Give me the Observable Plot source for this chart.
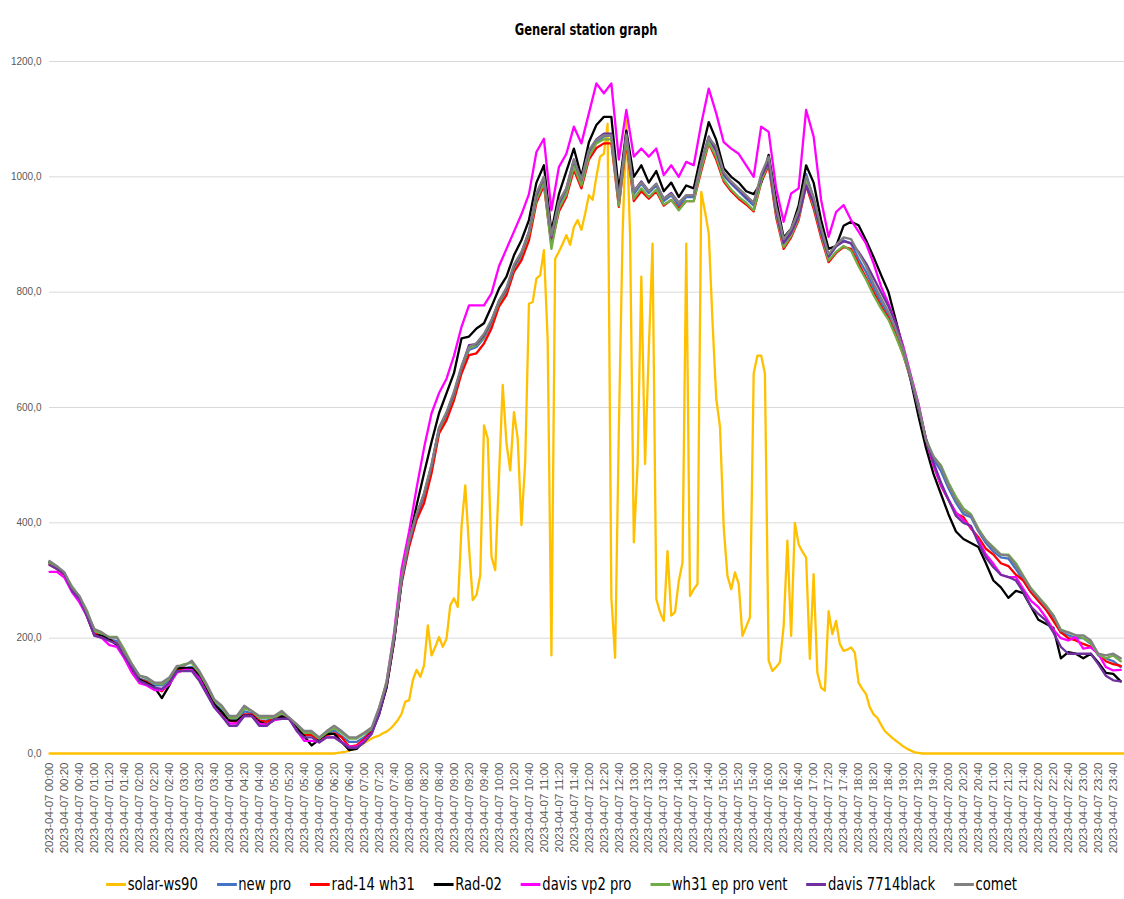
<!DOCTYPE html>
<html><head><meta charset="utf-8">
<script src="https://cdn.jsdelivr.net/npm/d3@7"></script>
<script src="https://cdn.jsdelivr.net/npm/@observablehq/plot@0.6"></script>
<style>
body{margin:0;background:#fff;width:1124px;}
#title{height:45px;box-sizing:border-box;padding-top:22px;padding-left:49px;line-height:16px;text-align:center;font-family:"Liberation Sans Narrow","DejaVu Sans Condensed","Liberation Sans",sans-serif;font-weight:bold;font-size:16px;color:#000;}
#title span{display:inline-block;transform:scaleX(0.8);transform-origin:center;}
#legend{height:42px;display:flex;justify-content:center;align-items:center;font-family:"Liberation Sans Narrow","DejaVu Sans Condensed","Liberation Sans",sans-serif;font-size:17px;color:#000;}
#lg{display:flex;align-items:center;transform:scaleX(0.86);transform-origin:center;}
.item{display:flex;align-items:center;margin:0 11px;}
.sw{display:inline-block;width:23px;height:3px;margin-right:2px;}
</style></head><body>
<div id="title"><span>General station graph</span></div>
<div id="chart"></div>
<div id="legend"><div id="lg"></div></div>
<script>
const dateLabel = "2023-04-07";
const seriesNames = ["solar-ws90","new pro","rad-14 wh31","Rad-02","davis vp2 pro","wh31 ep pro vent","davis 7714black","comet"];
const seriesColors = ["#FFC000","#4472C4","#FF0000","#000000","#FF00FF","#70AD47","#7030A0","#808080"];
const yTicks = [0,200,400,600,800,1000,1200];

// solar-ws90: 5-minute samples, 00:00 .. 23:55
const solarWs90 = [
0,0,0,0,0,0,0,0,0,0,0,0,0,0,0,0,0,0,0,0,
0,0,0,0,0,0,0,0,0,0,0,0,0,0,0,0,0,0,0,0,
0,0,0,0,0,0,0,0,0,0,0,0,0,0,0,0,0,0,0,0,
0,0,0,0,0,0,0,0,0,0,0,0,0,0,0,0,
0,1,2,3,5,8,11,14,18,22,
26,29,31,35,38,43,50,58,69,90,
92,127,145,133,153,222,170,185,202,185,
199,257,269,254,393,465,358,266,275,309,
569,546,341,318,480,639,538,491,592,546,
396,506,780,783,824,829,873,717,170,858,
870,884,899,882,913,925,908,936,968,960,
1000,1035,1040,1092,271,166,560,900,1098,900,
366,500,827,502,700,884,268,245,230,351,
239,245,299,331,884,273,285,294,974,940,
902,750,616,567,392,308,285,314,294,204,
220,236,659,690,690,659,161,143,150,158,
221,369,204,400,363,350,340,164,311,140,
114,109,247,207,230,190,178,180,184,175,
123,112,103,80,68,62,50,39,33,27,
22,17,12,8,5,2,1,
0,0,0,0,0,0,0,0,0,0,0,0,0,0,0,0,0,0,0,0,
0,0,0,0,0,0,0,0,0,0,0,0,0,0,0,0,0,0,0,0,
0,0,0,0,0,0,0,0,0,0,0,0,0,0,0
];

// other sensors: 10-minute samples, 00:00 .. 23:50
const newPro = [
330,322,312,285,270,242,212,205,198,195,
172,150,130,126,118,118,127,148,148,150,
138,112,87,75,57,57,73,70,57,57,
62,66,62,45,34,34,24,34,40,30,
20,20,28,40,75,120,200,300,365,410,
445,495,560,585,620,665,700,705,720,745,
780,800,840,862,900,965,995,890,950,975,
1025,990,1040,1060,1070,1072,955,1070,970,988,
972,985,958,968,950,965,965,1020,1065,1045,
1002,988,975,962,950,1000,1030,942,887,905,
936,1005,962,907,861,879,890,884,858,835,
808,782,760,730,695,650,602,545,510,490,
460,435,415,410,385,365,350,340,338,320,
300,280,265,250,235,210,205,200,200,190,
170,165,160,150];

const rad14wh31 = [
328,320,310,283,268,240,210,203,198,190,
170,148,128,124,114,108,122,145,148,148,
135,110,85,70,57,55,68,68,57,55,
60,64,60,45,32,32,22,32,35,28,
12,14,25,38,70,115,195,295,358,405,
434,486,555,578,613,659,691,694,711,737,
775,795,835,855,890,955,985,882,940,965,
1012,980,1030,1050,1058,1058,948,1060,958,975,
962,975,950,960,945,958,958,1010,1058,1030,
992,975,962,952,940,990,1020,930,875,895,
925,985,945,895,852,868,878,875,850,825,
800,775,755,725,690,648,600,545,500,465,
440,416,410,390,375,355,345,330,325,310,
300,280,265,250,230,210,200,196,190,185,
173,160,155,152];

const rad02 = [
332,324,312,285,270,238,205,205,198,188,
168,145,128,122,115,96,118,148,148,148,
135,110,85,72,57,57,66,66,55,50,
58,64,60,45,30,14,24,34,34,20,
6,8,22,36,68,115,195,300,370,430,
486,540,590,625,660,720,723,737,746,775,
806,827,864,890,925,990,1020,905,970,1010,
1049,1000,1060,1090,1104,1104,975,1080,1000,1020,
990,1010,975,990,965,985,980,1040,1095,1064,
1015,1000,990,975,970,990,1038,960,895,910,
950,1020,990,925,875,880,915,922,916,890,
861,830,800,750,700,645,585,530,485,450,
415,385,372,365,358,330,300,288,270,282,
278,255,232,225,218,165,176,173,165,173,
158,140,138,125];

const davisVp2Pro = [
315,315,305,280,262,238,205,200,188,185,
165,140,122,118,110,110,120,140,145,145,
130,105,80,65,52,52,65,65,52,50,
58,60,60,40,22,22,20,28,28,20,
12,12,22,35,72,125,210,320,385,460,
530,590,625,650,690,740,777,777,777,798,
845,875,905,935,970,1043,1066,942,1017,1040,
1087,1058,1110,1162,1145,1162,1030,1116,1035,1049,
1035,1049,1003,1020,1000,1026,1020,1092,1153,1110,
1060,1049,1040,1020,1000,1087,1078,980,922,971,
980,1116,1070,960,896,939,951,925,905,884,
850,810,780,745,705,655,607,545,500,465,
440,418,405,392,370,345,329,310,306,306,
285,265,254,236,215,200,196,202,182,184,
173,150,144,145];

const wh31EpProVent = [
330,322,312,290,272,248,212,208,202,202,
180,155,135,130,122,120,130,150,155,157,
140,117,92,80,62,62,78,74,62,62,
62,70,62,50,36,36,26,36,44,36,
26,26,34,42,78,125,205,305,370,415,
448,498,562,588,622,668,703,708,722,748,
782,803,842,865,900,960,990,875,945,970,
1018,985,1035,1058,1065,1065,950,1065,962,980,
965,978,952,960,942,958,958,1015,1060,1035,
995,978,965,955,942,992,1025,935,878,898,
928,990,950,900,855,870,880,872,845,822,
795,772,752,722,690,648,598,545,515,500,
470,445,425,415,390,370,358,345,345,330,
308,287,272,257,240,215,210,205,200,192,
172,165,170,160];

const davis7714Black = [
327,320,311,282,268,239,204,201,195,190,
169,149,126,120,114,112,123,143,143,143,
126,103,80,65,48,48,65,65,48,48,
60,60,60,39,28,28,19,28,28,19,
10,10,19,34,68,118,198,298,365,412,
450,500,565,590,625,670,708,710,725,750,
785,805,845,868,905,968,1000,895,955,980,
1030,995,1045,1065,1075,1075,960,1075,975,992,
975,988,962,972,955,968,968,1025,1070,1045,
1005,990,978,965,955,1000,1025,940,885,903,
932,985,955,903,862,880,888,885,870,850,
825,800,775,745,700,648,600,545,505,470,
440,412,400,395,365,340,323,310,306,300,
280,255,242,231,210,185,173,173,173,173,
155,135,127,125];

const comet = [
334,325,314,288,273,245,216,210,201,201,
175,155,135,132,123,123,132,152,152,161,
143,120,94,83,65,65,83,74,65,65,
65,74,62,51,39,39,28,39,48,39,
28,28,36,45,80,122,202,302,368,415,
452,502,565,592,628,672,705,712,728,752,
785,808,848,870,905,972,1000,898,958,980,
1030,995,1046,1064,1072,1072,960,1072,975,990,
975,988,962,970,955,968,968,1025,1068,1052,
1008,992,980,968,955,1005,1035,948,892,910,
942,1000,965,912,866,882,895,892,868,845,
815,790,765,735,700,652,605,543,515,497,
465,440,420,413,387,370,355,345,343,326,
306,285,270,255,239,213,210,205,205,196,
173,170,173,165];

const seriesValues = [solarWs90, newPro, rad14wh31, rad02, davisVp2Pro, wh31EpProVent, davis7714Black, comet];
const seriesStep = [5,10,10,10,10,10,10,10]; // minutes between samples
const tickMinutes = d3.range(0, 1440, 20);

const pad = n => String(n).padStart(2, "0");
const fmtTime = m => `${dateLabel} ${pad(Math.floor(m / 60))}:${pad(m % 60)}`;

const rows = seriesValues.map((vals, k) => vals.map((v, i) => ({t: i * seriesStep[k], v, s: seriesNames[k]})));

const chart = Plot.plot({
  width: 1124,
  height: 818,
  marginLeft: 49,
  marginRight: 0,
  marginTop: 16,
  marginBottom: 110,
  style: {background: "#fff", color: "#595959"},
  x: {type: "linear", domain: [0, 1435]},
  y: {domain: [0, 1200]},
  marks: [
    Plot.ruleY(yTicks, {stroke: "#d9d9d9", strokeWidth: 1}),
    ...rows.map((r, k) => Plot.line(r, {x: "t", y: "v", stroke: seriesColors[k], strokeWidth: 2.3, strokeLinejoin: "round"})),
    Plot.axisX({ticks: tickMinutes, tickFormat: fmtTime, tickRotate: -90, tickSize: 0, tickPadding: 9, label: null, fontSize: 11.5, fontFamily: "Liberation Sans, sans-serif", fill: "#595959"}),
    Plot.axisY({ticks: yTicks, tickFormat: v => v.toFixed(1).replace(".", ","), tickSize: 0, tickPadding: 8, label: null, fontSize: 10, fontFamily: "Liberation Sans, sans-serif", fill: "#595959"})
  ]
});
document.getElementById("chart").appendChild(chart);

const legend = document.getElementById("lg");
seriesNames.forEach((name, k) => {
  const item = document.createElement("div");
  item.className = "item";
  const sw = document.createElement("span");
  sw.className = "sw";
  sw.style.background = seriesColors[k];
  const tx = document.createElement("span");
  tx.textContent = name;
  item.appendChild(sw);
  item.appendChild(tx);
  legend.appendChild(item);
});
</script>
</body></html>
